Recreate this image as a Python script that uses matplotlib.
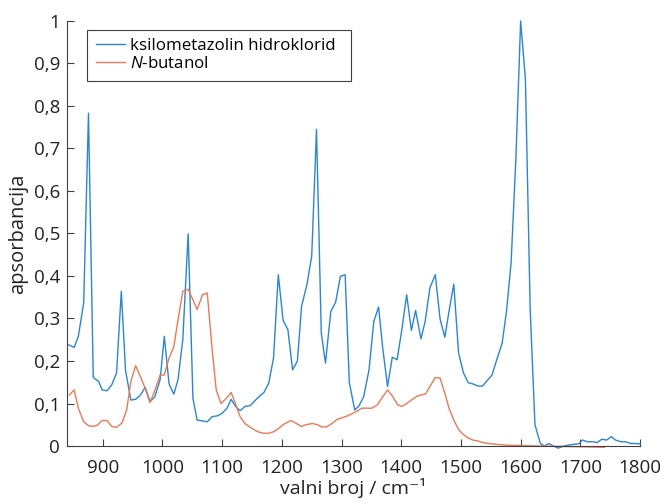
import matplotlib
matplotlib.use('Agg')
import matplotlib.pyplot as plt
from matplotlib.ticker import FuncFormatter

plt.rcParams['font.family'] = ['Open Sans', 'DejaVu Sans']
plt.rcParams['mathtext.fontset'] = 'custom'
plt.rcParams['mathtext.it'] = 'Open Sans:italic'
plt.rcParams['mathtext.rm'] = 'Open Sans'

# ksilometazolin hidroklorid
x_ksi = [843, 852, 859, 868, 876, 884, 893, 899, 907, 915, 923, 931, 938, 947, 955,
         963, 971, 979, 987, 996, 1003, 1011, 1019, 1026, 1034, 1043, 1051, 1058, 1067,
         1075, 1083, 1092, 1100, 1108, 1115, 1122, 1130, 1138, 1147, 1155, 1163, 1170,
         1178, 1186, 1194, 1202, 1210, 1218, 1226, 1233, 1242, 1250, 1258, 1266, 1273,
         1282, 1290, 1298, 1306, 1313, 1322, 1329, 1337, 1346, 1354, 1362, 1369, 1377,
         1385, 1393, 1401, 1409, 1417, 1424, 1433, 1440, 1448, 1457, 1465, 1473, 1480,
         1488, 1496, 1504, 1512, 1520, 1529, 1536, 1544, 1552, 1560, 1569, 1576, 1584,
         1592, 1600, 1608, 1616, 1624, 1633, 1640, 1647, 1655, 1663, 1672, 1680, 1688,
         1697, 1704, 1712, 1721, 1728, 1736, 1744, 1752, 1759, 1768, 1776, 1784, 1791, 1800]
y_ksi = [0.238, 0.232, 0.258, 0.337, 0.783, 0.161, 0.152, 0.132, 0.130, 0.144, 0.172,
         0.364, 0.179, 0.108, 0.110, 0.120, 0.138, 0.105, 0.115, 0.156, 0.258, 0.146,
         0.122, 0.156, 0.250, 0.499, 0.112, 0.061, 0.059, 0.057, 0.069, 0.071, 0.077,
         0.089, 0.110, 0.094, 0.083, 0.093, 0.095, 0.107, 0.118, 0.126, 0.148, 0.207,
         0.403, 0.296, 0.274, 0.179, 0.200, 0.329, 0.380, 0.447, 0.745, 0.266, 0.195,
         0.317, 0.338, 0.399, 0.403, 0.149, 0.085, 0.094, 0.116, 0.179, 0.293, 0.327,
         0.230, 0.140, 0.209, 0.203, 0.274, 0.356, 0.272, 0.319, 0.252, 0.293, 0.372,
         0.403, 0.299, 0.256, 0.317, 0.381, 0.219, 0.173, 0.149, 0.146, 0.141, 0.141,
         0.154, 0.167, 0.203, 0.242, 0.313, 0.431, 0.675, 1.0, 0.863, 0.321, 0.050,
         0.006, 0.0, 0.006, 0.0, -0.005, 0.0, 0.002, 0.004, 0.005, 0.014, 0.010, 0.010,
         0.008, 0.016, 0.014, 0.022, 0.014, 0.010, 0.010, 0.006, 0.006, 0.005]

# N-butanol
x_but = [844, 852, 859, 868, 876, 884, 891, 899, 907, 915, 923, 932, 940, 947, 955,
         963, 972, 979, 987, 996, 1003, 1011, 1019, 1026, 1034, 1043, 1051, 1058, 1067,
         1075, 1083, 1090, 1098, 1107, 1115, 1122, 1130, 1138, 1147, 1155, 1163, 1170,
         1178, 1187, 1195, 1203, 1215, 1223, 1233, 1240, 1251, 1260, 1266, 1275, 1284,
         1293, 1302, 1310, 1319, 1327, 1334, 1343, 1351, 1360, 1368, 1377, 1385, 1394,
         1401, 1410, 1418, 1426, 1433, 1441, 1448, 1457, 1465, 1473, 1480, 1488, 1496,
         1504, 1512, 1520, 1528, 1537, 1545, 1559, 1576, 1598, 1630, 1670, 1710, 1740]
y_but = [0.120, 0.132, 0.089, 0.057, 0.048, 0.046, 0.049, 0.060, 0.060, 0.046, 0.044,
         0.054, 0.085, 0.152, 0.189, 0.163, 0.132, 0.102, 0.130, 0.167, 0.167, 0.207,
         0.234, 0.297, 0.364, 0.369, 0.344, 0.321, 0.356, 0.360, 0.230, 0.132, 0.100,
         0.112, 0.126, 0.100, 0.069, 0.053, 0.044, 0.037, 0.032, 0.030, 0.030, 0.034,
         0.042, 0.051, 0.060, 0.054, 0.046, 0.050, 0.053, 0.050, 0.045, 0.045, 0.053,
         0.063, 0.067, 0.071, 0.077, 0.083, 0.089, 0.089, 0.089, 0.097, 0.114, 0.132,
         0.118, 0.097, 0.093, 0.101, 0.109, 0.117, 0.120, 0.123, 0.140, 0.161, 0.160,
         0.124, 0.089, 0.061, 0.039, 0.027, 0.019, 0.014, 0.012, 0.008, 0.006, 0.004,
         0.002, 0.001, 0.0, -0.001, -0.002, -0.003]

xticks = [900, 1000, 1100, 1200, 1300, 1400, 1500, 1600, 1700, 1800]
yticks = [0, 0.1, 0.2, 0.3, 0.4, 0.5, 0.6, 0.7, 0.8, 0.9, 1.0]

fig = plt.figure(figsize=(6.62, 5.03), dpi=100)
ax = fig.add_axes([0.1012, 0.1133, 0.8656, 0.845])

ax.plot(x_ksi, y_ksi, color='#2a86d1', lw=1.0, label='ksilometazolin hidroklorid', clip_on=False)
ax.plot(x_but, y_but, color='#e97a55', lw=1.0, label='$\\mathit{N}$-butanol', clip_on=False)

ax.set_xlim(840, 1800)
ax.set_ylim(0, 1)
ax.set_xticks(xticks)
ax.set_yticks(yticks)
ax.yaxis.set_major_formatter(FuncFormatter(lambda v, p: ('%g' % round(v, 1)).replace('.', ',')))
ax.tick_params(direction='in', length=5, width=0.8, color='#404040', labelsize=13.5,
               labelcolor='#222222')
ax.tick_params(axis='x', pad=9)
ax.tick_params(axis='y', pad=5)
for s in ['top', 'right']:
    ax.spines[s].set_visible(False)
for s in ['left', 'bottom']:
    ax.spines[s].set_color('#404040')
    ax.spines[s].set_linewidth(0.8)

ax.set_xlabel('valni broj / cm⁻¹', fontsize=14, color='#222222', labelpad=1)
ax.set_ylabel('apsorbancija', fontsize=14.5, color='#222222', labelpad=4)

leg = ax.legend(loc='upper left', bbox_to_anchor=(0.035, 0.0, 0.4607, 0.979), mode='expand',
                borderaxespad=0, fancybox=False, edgecolor='#404040', framealpha=1,
                fontsize=12.2, handlelength=1.75, handletextpad=0.3, borderpad=0.5,
                labelspacing=0.1)
leg.get_frame().set_linewidth(0.8)

fig.savefig('out.png', dpi=100)
